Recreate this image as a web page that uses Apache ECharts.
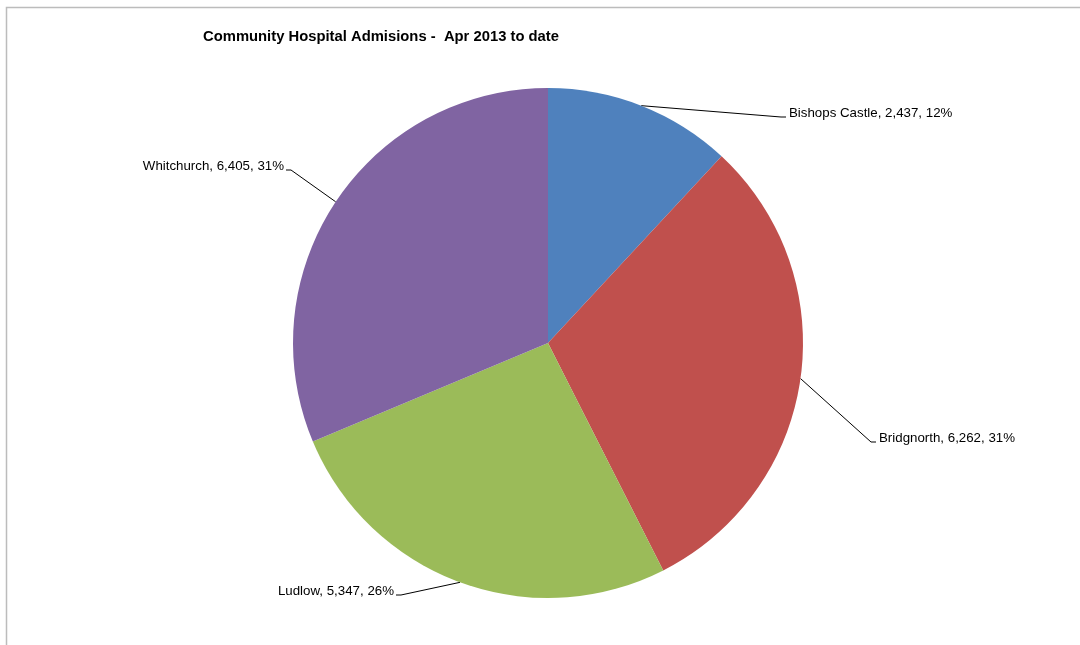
<!DOCTYPE html>
<html>
<head>
<meta charset="utf-8">
<script src="https://cdn.jsdelivr.net/npm/echarts@6/dist/echarts.min.js"></script>
<style>html,body{margin:0;padding:0;background:#fff;}#c{width:1080px;height:645px;}</style>
</head>
<body>
<div id="c"></div>
<script>
const categories = ['Bishops Castle', 'Bridgnorth', 'Ludlow', 'Whitchurch'];
const admissions = [2437, 6262, 5347, 6405];
const colors = ['#4F81BD', '#C0504D', '#9BBB59', '#8064A2'];
const titleText = 'Community Hospital Admisions -  Apr 2013 to date';

// label anchor positions (x, y) and alignment per slice (layout only)
const labelPos = [
  { x: 789, y: 113, align: 'left' },
  { x: 879, y: 438, align: 'left' },
  { x: 394, y: 591, align: 'right' },
  { x: 284, y: 166, align: 'right' }
];

const total = admissions.reduce((a, b) => a + b, 0);
const fmt = n => n.toLocaleString('en-US');
const FONT = '"Liberation Sans", Arial, sans-serif';

const chart = echarts.init(document.getElementById('c'), null, { renderer: 'canvas' });
chart.setOption({
  animation: false,
  backgroundColor: '#fff',
  title: {
    text: titleText,
    left: 198,
    top: 24,
    textStyle: { fontFamily: FONT, fontSize: 14.8, fontWeight: 'bold', color: '#000' }
  },
  graphic: [{
    type: 'rect',
    shape: { x: 6.5, y: 7.5, width: 1200, height: 800 },
    style: { fill: 'none', stroke: '#bcbcbc', lineWidth: 1.5 },
    silent: true
  }],
  series: [{
    type: 'pie',
    center: [548, 343],
    radius: 255,
    startAngle: 90,
    clockwise: true,
    data: categories.map((c, i) => ({ name: c, value: admissions[i], itemStyle: { color: colors[i] } })),
    label: {
      show: true,
      fontFamily: FONT,
      fontSize: 13.3,
      color: '#000',
      formatter: p => p.name + ', ' + fmt(p.value) + ', ' + Math.round(p.value / total * 100) + '%'
    },
    labelLine: { show: true, length: 20, length2: 5, lineStyle: { color: '#000', width: 1 } },
    labelLayout: function (params) {
      const lp = labelPos[params.dataIndex];
      const p0 = params.labelLinePoints ? params.labelLinePoints[0] : null;
      const endX = lp.align === 'left' ? lp.x - 3 : lp.x + 2;
      const tipX = lp.align === 'left' ? endX - 5 : endX + 5;
      const ly = lp.y + 4;
      const res = { x: lp.x, y: lp.y, align: lp.align, verticalAlign: 'middle' };
      if (p0) res.labelLinePoints = [p0, [tipX, ly], [endX, ly]];
      return res;
    },
    emphasis: { disabled: true }
  }]
});
</script>
</body>
</html>
